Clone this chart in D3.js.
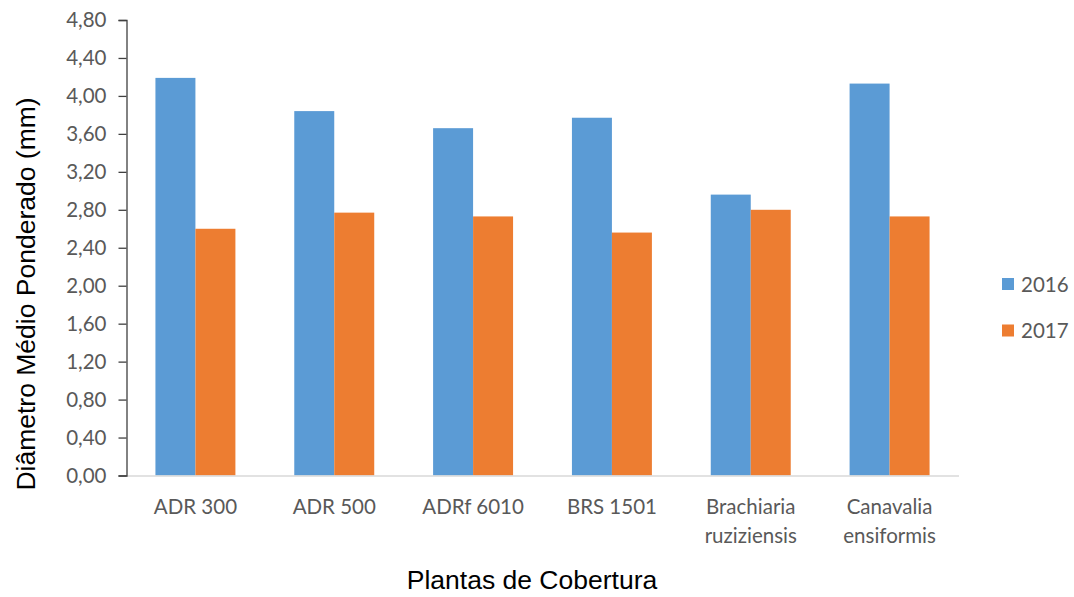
<!DOCTYPE html>
<html>
<head>
<meta charset="utf-8">
<script src="https://cdn.jsdelivr.net/npm/d3@7"></script>
<style>
  html, body { margin: 0; padding: 0; background: #fff; }
  svg { display: block; }
</style>
</head>
<body>
<svg id="chart" width="1074" height="597"></svg>
<script>
// Cover crops and mean weighted diameter per year
const categories = [
  ["ADR 300"],
  ["ADR 500"],
  ["ADRf 6010"],
  ["BRS 1501"],
  ["Brachiaria", "ruziziensis"],
  ["Canavalia", "ensiformis"]
];
const years = ["2016", "2017"];
const values2016 = [4.19, 3.84, 3.66, 3.77, 2.96, 4.13];
const values2017 = [2.60, 2.77, 2.73, 2.56, 2.80, 2.73];
const yTicks = [0, 0.4, 0.8, 1.2, 1.6, 2.0, 2.4, 2.8, 3.2, 3.6, 4.0, 4.4, 4.8];
const colors = ["#5B9BD5", "#ED7D31"];

const series = [values2016, values2017];

const svg = d3.select("#chart");
const margin = { left: 126, right: 115, top: 20, bottom: 121.5 };
const width = 1074 - margin.left - margin.right;
const height = 597 - margin.top - margin.bottom;

const labelFont = "Lato, 'Open Sans', sans-serif";
const labelSize = "20.5px";

const g = svg.append("g").attr("transform", `translate(${margin.left},${margin.top})`);

const x0 = d3.scaleBand()
  .domain(d3.range(categories.length))
  .range([0, width])
  .paddingInner(0.424)
  .paddingOuter(0.212);

const x1 = d3.scaleBand()
  .domain(d3.range(years.length))
  .range([0, x0.bandwidth()]);

const y = d3.scaleLinear().domain([0, 4.8]).range([height, 0]);

const fmt = d => d.toFixed(2).replace(".", ",");

// bars
const groups = g.selectAll("g.cat")
  .data(categories.map((c, i) => i))
  .join("g")
  .attr("class", "cat")
  .attr("transform", i => `translate(${x0(i)},0)`);

groups.selectAll("rect")
  .data(i => series.map((s, k) => ({ k, v: s[i] })))
  .join("rect")
  .attr("x", d => x1(d.k))
  .attr("width", x1.bandwidth())
  .attr("y", d => y(d.v))
  .attr("height", d => height - y(d.v))
  .attr("fill", d => colors[d.k]);

// x axis baseline
g.append("line")
  .attr("x1", 0).attr("x2", width)
  .attr("y1", height + 0.5).attr("y2", height + 0.5)
  .attr("stroke", "#d9d9d9").attr("stroke-width", 1.3);

// y axis
const yAxis = d3.axisLeft(y).tickValues(yTicks).tickFormat(fmt).tickSize(8).tickPadding(12);
const ya = g.append("g").attr("transform", "translate(0.5,0)").call(yAxis);
ya.select(".domain").attr("stroke", "#404040").attr("stroke-width", 1.3);
ya.selectAll(".tick line").attr("stroke", "#404040").attr("stroke-width", 1.3);
ya.selectAll(".tick text")
  .attr("fill", "#595959")
  .style("font-family", labelFont)
  .style("font-size", labelSize);

// category labels
const xl = g.append("g");
categories.forEach((lines, i) => {
  const cx = x0(i) + x0.bandwidth() / 2;
  const t = xl.append("text")
    .attr("x", cx)
    .attr("y", height + 38.5)
    .attr("text-anchor", "middle")
    .attr("fill", "#595959")
    .style("font-family", labelFont)
    .style("font-size", labelSize);
  lines.forEach((ln, j) => {
    t.append("tspan")
      .attr("x", cx)
      .attr("dy", j === 0 ? 0 : 28.5)
      .text(ln);
  });
});

// axis titles
svg.append("text")
  .attr("x", 532).attr("y", 589)
  .attr("text-anchor", "middle")
  .attr("fill", "#000")
  .style("font-family", "'Liberation Sans', Arial, sans-serif")
  .style("font-size", "26.5px")
  .text("Plantas de Cobertura");

svg.append("text")
  .attr("transform", "translate(35,294) rotate(-90)")
  .attr("text-anchor", "middle")
  .attr("fill", "#000")
  .style("font-family", "'Liberation Sans', Arial, sans-serif")
  .style("font-size", "26.5px")
  .text("Diâmetro Médio Ponderado (mm)");

// legend
const legend = svg.append("g").attr("transform", "translate(1002,278)");
years.forEach((yr, k) => {
  const row = legend.append("g").attr("transform", `translate(0,${k * 46.5})`);
  row.append("rect").attr("width", 12).attr("height", 12).attr("fill", colors[k]);
  row.append("text")
    .attr("x", 19).attr("y", 13.5)
    .attr("fill", "#595959")
    .style("font-family", labelFont)
    .style("font-size", labelSize)
    .text(yr);
});
</script>
</body>
</html>
